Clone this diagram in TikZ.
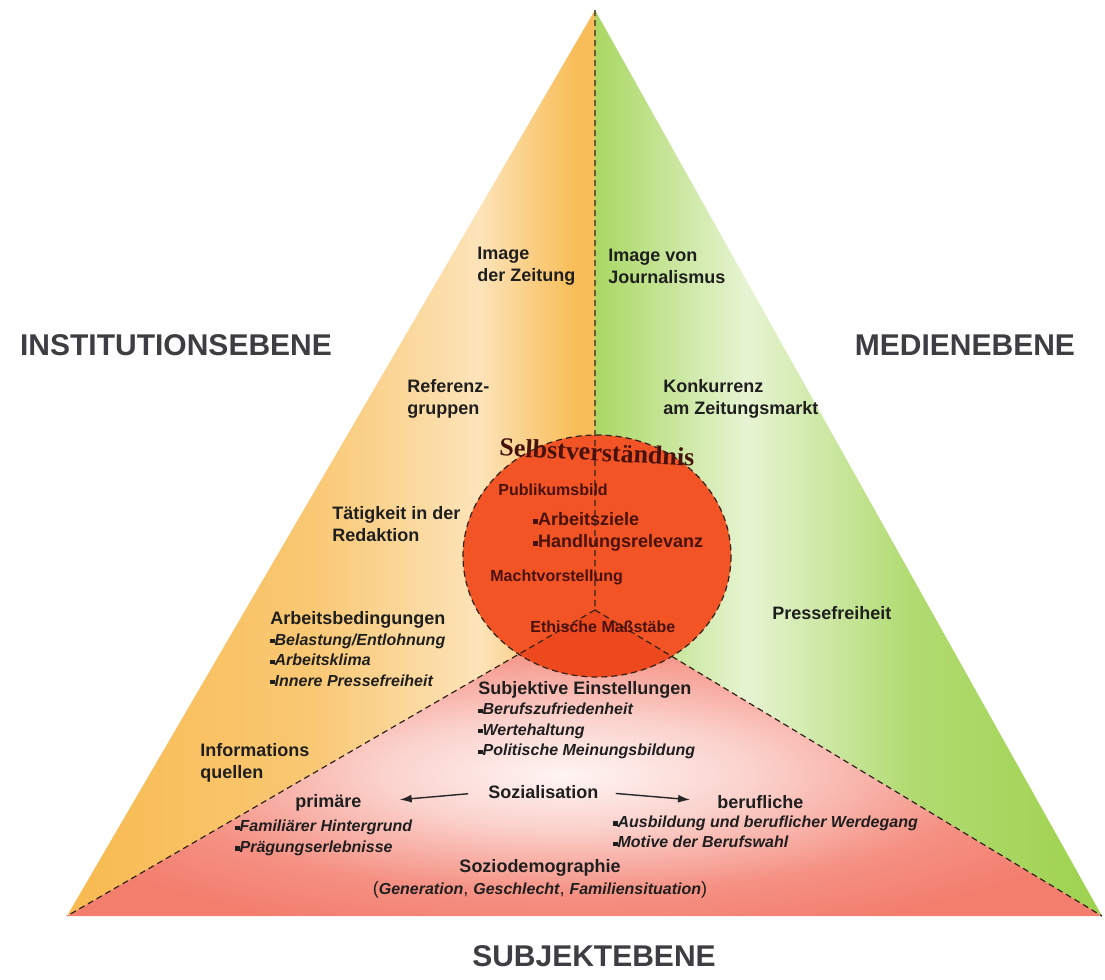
\documentclass[tikz,border=0pt]{standalone}
\usepackage{fontspec}
\setmainfont{Liberation Sans}
\newfontfamily\titelfont{Liberation Serif}
\usetikzlibrary{arrows.meta}

\definecolor{instorange}{RGB}{248,186,80}
\definecolor{mediengreen}{RGB}{158,210,78}
\definecolor{subjsalmon}{RGB}{243,126,110}
\definecolor{selbstred}{RGB}{243,84,38}
\definecolor{selbstdark}{RGB}{238,72,30}
\definecolor{kreistext}{RGB}{72,18,12}
\definecolor{ebenegray}{RGB}{62,62,66}
\definecolor{strichbraun}{RGB}{50,35,25}

\pgfdeclarehorizontalshading{instshade}{100bp}{color(0bp)=(instorange); color(25bp)=(instorange); color(48bp)=(instorange!80!white); color(64bp)=(instorange!40!white); color(73bp)=(instorange!95!white); color(100bp)=(instorange)}
\pgfdeclarehorizontalshading{medienshade}{100bp}{color(0bp)=(mediengreen); color(25bp)=(mediengreen!88!white); color(40bp)=(mediengreen!25!white); color(56bp)=(mediengreen!80!white); color(75bp)=(mediengreen); color(100bp)=(mediengreen)}
\pgfdeclareradialshading{subjshade}{\pgfpoint{-1bp}{-2bp}}{color(0bp)=(subjsalmon!8!white); color(9bp)=(subjsalmon!35!white); color(20bp)=(subjsalmon!85!white); color(28bp)=(subjsalmon); color(50bp)=(subjsalmon)}

\newcommand{\sq}{\rule[0.22ex]{0.5ex}{0.5ex}}

\tikzset{
  ebene/.style={font=\fontsize{15}{18}\selectfont\bfseries, text=ebenegray, inner sep=0pt},
  feld/.style={font=\fontsize{9}{11}\selectfont\bfseries, text=black!88, align=left, anchor=west, inner sep=0pt},
  punkte/.style={feld, font=\fontsize{8}{10.25}\selectfont\bfseries\itshape},
  kreis/.style={font=\fontsize{8}{10}\selectfont\bfseries, text=kreistext, anchor=west, inner sep=0pt},
  teilung/.style={strichbraun, line width=0.6pt, dash pattern=on 3pt off 2pt},
  pfeil/.style={-{Latex[length=6pt,width=4pt]}, line width=0.7pt, black!85}
}

\begin{document}
\begin{tikzpicture}[x=0.5pt,y=-0.5pt]
  \useasboundingbox (0,0) rectangle (1105,980);
  \coordinate (apex) at (595,10);
  \coordinate (bl) at (67,916);
  \coordinate (br) at (1102,916);
  \coordinate (mid) at (595,610);

  \shade[shading=instshade] (apex) -- (mid) -- (bl) -- cycle;
  \shade[shading=medienshade] (apex) -- (br) -- (mid) -- cycle;
  \shade[shading=subjshade] (bl) -- (mid) -- (br) -- cycle;

  \fill[selbstred] (597,556) ellipse [x radius=134, y radius=121];
  \begin{scope}
    \clip (bl) -- (mid) -- (br) -- cycle;
    \fill[selbstdark] (597,556) ellipse [x radius=134, y radius=121];
  \end{scope}
  \draw[teilung] (597,556) ellipse [x radius=134, y radius=121];
  \draw[teilung] (apex) -- (mid) -- (bl);
  \draw[teilung] (mid) -- (br);

  \node[ebene] (inst) at (176,345) {INSTITUTIONSEBENE};
  \node[ebene] (medien) at (965,345) {MEDIENEBENE};
  \node[ebene] (subj) at (594,956) {SUBJEKTEBENE};

  \node[font=\titelfont\fontsize{13}{15}\selectfont\bfseries, text=kreistext, inner sep=0pt, rotate=-3] (selbst) at (597,452) {Selbstverständnis};
  \node[kreis] (publ) at (498,490) {Publikumsbild};
  \node[kreis, font=\fontsize{9}{11}\selectfont\bfseries, align=left] (ziele) at (533,532) {\sq Arbeitsziele\\\sq Handlungsrelevanz};
  \node[kreis] (macht) at (490,577) {Machtvorstellung};
  \node[kreis] (ethik) at (530,627) {Ethische Maßstäbe};

  \node[feld] (zeitung) at (477,266) {Image\\der Zeitung};
  \node[feld] (journ) at (608,266) {Image von\\Journalismus};
  \node[feld] (ref) at (407,399) {Referenz-\\gruppen};
  \node[feld] (konk) at (663,399) {Konkurrenz\\am Zeitungsmarkt};
  \node[feld] (taet) at (332,524) {Tätigkeit in der\\Redaktion};
  \node[feld] (press) at (772,613) {Pressefreiheit};
  \node[feld] (info) at (200,763) {Informations\\quellen};

  \node[punkte] (arb) at (270,649) {{\fontsize{9}{11}\selectfont\upshape Arbeitsbedingungen}\\\sq Belastung/Entlohnung\\\sq Arbeitsklima\\\sq Innere Pressefreiheit};
  \node[punkte] (einst) at (478,720) {{\fontsize{9}{11}\selectfont\upshape Subjektive Einstellungen}\\\sq Berufszufriedenheit\\\sq Wertehaltung\\\sq Politische Meinungsbildung};

  \node[feld] (soz) at (488,792) {Sozialisation};
  \node[feld] (prim) at (295,803) {primäre};
  \node[feld] (beruf) at (717,802) {berufliche};
  \node[punkte] (fam) at (235,838) {\sq Familiärer Hintergrund\\\sq Prägungserlebnisse};
  \node[punkte] (ausb) at (613,832) {\sq Ausbildung und beruflicher Werdegang\\\sq Motive der Berufswahl};
  \node[feld, anchor=center, align=center] (sozio) at (540,879) {Soziodemographie\\{\mdseries(}{\fontsize{8}{10}\selectfont\itshape Generation}{\mdseries, }{\fontsize{8}{10}\selectfont\itshape Geschlecht}{\mdseries, }{\fontsize{8}{10}\selectfont\itshape Familiensituation}{\mdseries)}};

  \draw[pfeil, shorten <=10pt, shorten >=19pt] (soz.west) -- (prim.east);
  \draw[pfeil, shorten <=8.5pt, shorten >=13.5pt] (soz.east) -- (beruf.west);
\end{tikzpicture}
\end{document}
